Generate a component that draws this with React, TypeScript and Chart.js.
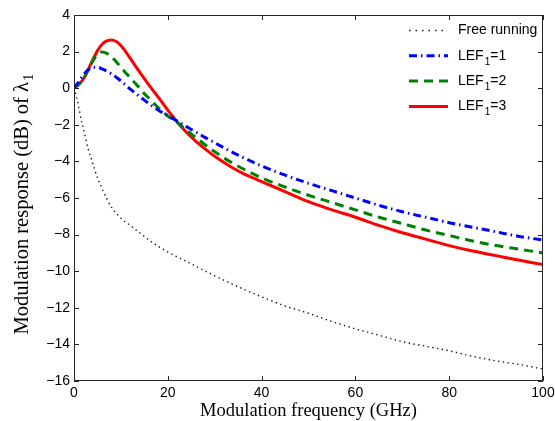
import React, { useEffect, useRef } from "react";
import { Chart, registerables } from "chart.js";

Chart.register(...registerables);

// ---- data ----
const freeFreq = [0, 0.5, 1, 1.5, 2, 3, 4, 5, 6, 7, 8, 10, 12, 14, 16, 18, 20, 25, 30, 35, 40, 45, 50, 55, 60, 65, 70, 75, 80, 85, 90, 95, 100];
const freeRunning = [0, -0.45, -1.0, -1.7, -2.2, -3.3, -4.1, -4.9, -5.5, -6.05, -6.5, -7.1, -7.5, -7.9, -8.3, -8.65, -8.95, -9.6, -10.25, -10.85, -11.4, -11.9, -12.3, -12.75, -13.15, -13.5, -13.85, -14.1, -14.35, -14.65, -14.9, -15.1, -15.35];

const lefFreq = [0, 1, 2, 3, 4, 5, 6, 7, 8, 9, 10, 11, 12, 13, 14, 15, 16, 17, 18, 19, 20, 21, 22, 24, 26, 28, 30, 33, 36, 40, 45, 50, 55, 60, 65, 70, 75, 80, 85, 90, 95, 100];
const lef1 = [0, 0.35, 0.72, 1.0, 1.15, 1.15, 1.05, 0.93, 0.78, 0.6, 0.4, 0.18, -0.05, -0.25, -0.45, -0.65, -0.85, -1.03, -1.2, -1.36, -1.5, -1.65, -1.8, -2.1, -2.4, -2.7, -2.98, -3.4, -3.78, -4.25, -4.75, -5.2, -5.6, -6.0, -6.4, -6.75, -7.05, -7.35, -7.6, -7.85, -8.1, -8.3];
const lef2 = [0, 0.2, 0.5, 1.0, 1.48, 1.85, 1.98, 1.9, 1.7, 1.45, 1.15, 0.85, 0.58, 0.28, 0.0, -0.3, -0.55, -0.82, -1.08, -1.3, -1.52, -1.7, -1.87, -2.3, -2.7, -3.1, -3.47, -3.97, -4.4, -4.9, -5.4, -5.85, -6.25, -6.65, -7.05, -7.4, -7.75, -8.05, -8.35, -8.6, -8.8, -9.0];
const lef3 = [0, 0.2, 0.5, 1.0, 1.55, 2.05, 2.4, 2.58, 2.63, 2.55, 2.33, 2.0, 1.63, 1.25, 0.88, 0.52, 0.17, -0.17, -0.5, -0.85, -1.2, -1.52, -1.85, -2.42, -2.9, -3.33, -3.72, -4.22, -4.65, -5.1, -5.65, -6.2, -6.65, -7.05, -7.5, -7.9, -8.25, -8.6, -8.9, -9.15, -9.4, -9.64];

const seriesLabels = ["Free running", "LEF\u2081=1", "LEF\u2081=2", "LEF\u2081=3"];
const xTitle = "Modulation frequency (GHz)";
const yTitle = "Modulation response (dB) of \u03bb\u2081";

const SANS = "'Liberation Sans', Arial, sans-serif";
const SERIF = "'Liberation Serif', 'Times New Roman', serif";

// draws text where "₁" is rendered as a lowered small "1"
function drawSubText(ctx: any, text: string, x: number, y: number, size: number, family: string, dy: number, measureOnly = false) {
  const parts = text.split("\u2081");
  let cx = x;
  parts.forEach((p, k) => {
    ctx.font = `${size}px ${family}`;
    if (!measureOnly) ctx.fillText(p, cx, y);
    cx += ctx.measureText(p).width;
    if (k < parts.length - 1) {
      ctx.font = `${Math.round(size * 0.72)}px ${family}`;
      if (!measureOnly) ctx.fillText("1", cx + 1, y + dy);
      cx += ctx.measureText("1").width + 1;
    }
  });
  return cx - x;
}

const framePlugin = {
  id: "matlabFrame",
  afterDatasetsDraw(chart: any) {
    const { ctx, chartArea } = chart;
    const { left, right, top, bottom } = chartArea;
    const xs = chart.scales.x;
    const ys = chart.scales.y;
    const tl = 5;
    ctx.save();
    ctx.strokeStyle = "#262626";
    ctx.lineWidth = 1;
    ctx.setLineDash([]);
    ctx.beginPath();
    ctx.rect(left + 0.5, top + 0.5, right - left - 1, bottom - top - 1);
    ctx.stroke();
    ctx.beginPath();
    xs.ticks.forEach((t: any) => {
      const px = Math.round(xs.getPixelForValue(t.value)) + 0.5;
      ctx.moveTo(px, bottom);
      ctx.lineTo(px, bottom - tl);
      ctx.moveTo(px, top);
      ctx.lineTo(px, top + tl);
    });
    ys.ticks.forEach((t: any) => {
      const py = Math.round(ys.getPixelForValue(t.value)) + 0.5;
      ctx.moveTo(left, py);
      ctx.lineTo(left + tl, py);
      ctx.moveTo(right, py);
      ctx.lineTo(right - tl, py);
    });
    ctx.stroke();

    // legend
    const x0 = right - 134;
    const x1 = right - 95;
    const tx = right - 85;
    const fontSize = 14;
    chart.data.datasets.forEach((ds: any, i: number) => {
      const y = top + 15.5 + i * 25.3;
      ctx.beginPath();
      ctx.strokeStyle = ds.borderColor;
      ctx.lineWidth = ds.borderWidth;
      ctx.setLineDash(i === 0 ? [1.5, 5] : ds.borderDash || []);
      ctx.moveTo(x0, y);
      ctx.lineTo(x1, y);
      ctx.stroke();
      ctx.setLineDash([]);
      ctx.fillStyle = "#000";
      ctx.textBaseline = "middle";
      ctx.textAlign = "left";
      drawSubText(ctx, String(ds.label), tx, y, fontSize, SANS, 6);
    });

    // y axis title (rotated), centered on the reference position
    ctx.save();
    ctx.fillStyle = "#000";
    ctx.textBaseline = "alphabetic";
    ctx.textAlign = "left";
    const ySize = 20.5;
    const w = drawSubText(ctx, yTitle, 0, 0, ySize, SERIF, 5, true);
    ctx.translate(28, (top + bottom) / 2 + 6 + w / 2);
    ctx.rotate(-Math.PI / 2);
    drawSubText(ctx, yTitle, 0, 0, ySize, SERIF, 5);
    ctx.restore();

    ctx.restore();
  },
};

function fmt(v: number | string) {
  const n = Number(v);
  return n < 0 ? "\u2212" + Math.abs(n) : String(n);
}

export default function App() {
  const ref = useRef<HTMLCanvasElement | null>(null);
  useEffect(() => {
    if (!ref.current) return;
    const mk = (xs: number[], ys: number[]) => xs.map((x, i) => ({ x, y: ys[i] }));
    const common = { showLine: true, pointRadius: 0, fill: false, cubicInterpolationMode: "monotone" as const };
    const chart = new Chart(ref.current, {
      type: "scatter",
      data: {
        datasets: [
          { ...common, label: seriesLabels[0], data: mk(freeFreq, freeRunning), borderColor: "#1a1a1a", borderWidth: 1.4, borderDash: [1.4, 3.4] },
          { ...common, label: seriesLabels[1], data: mk(lefFreq, lef1), borderColor: "#0000ff", borderWidth: 3, borderDash: [8, 4, 1.5, 4] },
          { ...common, label: seriesLabels[2], data: mk(lefFreq, lef2), borderColor: "#008000", borderWidth: 3, borderDash: [9, 6] },
          { ...common, label: seriesLabels[3], data: mk(lefFreq, lef3), borderColor: "#ff0000", borderWidth: 3 },
        ],
      },
      options: {
        responsive: false,
        animation: false,
        devicePixelRatio: 1,
        layout: { padding: { top: 15, right: 12, left: 0, bottom: 0 } },
        plugins: { legend: { display: false }, tooltip: { enabled: false } },
        scales: {
          x: {
            type: "linear",
            min: 0,
            max: 100,
            grid: { display: false, drawTicks: false },
            border: { display: false },
            ticks: { stepSize: 20, padding: 4, color: "#000", font: { family: SANS, size: 14 }, maxRotation: 0, callback: (v: any) => fmt(v) },
            title: { display: true, text: xTitle, color: "#000", font: { family: SERIF, size: 18.5, lineHeight: 1.1 }, padding: { top: 0, bottom: 0 } },
            afterFit: (s: any) => { s.height = 40; s.paddingLeft = 0; s.paddingRight = 0; },
          },
          y: {
            type: "linear",
            min: -16,
            max: 4,
            grid: { display: false, drawTicks: false },
            border: { display: false },
            ticks: { stepSize: 2, padding: 4, color: "#000", font: { family: SANS, size: 14 }, callback: (v: any) => fmt(v) },
            title: { display: false, text: yTitle },
            afterFit: (s: any) => { s.width = 74; s.paddingTop = 0; s.paddingBottom = 0; },
          },
        },
      },
      plugins: [framePlugin],
    });
    return () => chart.destroy();
  }, []);
  return (
    <div style={{ position: "absolute", left: 0, top: 0, width: 555, height: 421, background: "#fff" }}>
      <canvas ref={ref} width={555} height={421} />
    </div>
  );
}
